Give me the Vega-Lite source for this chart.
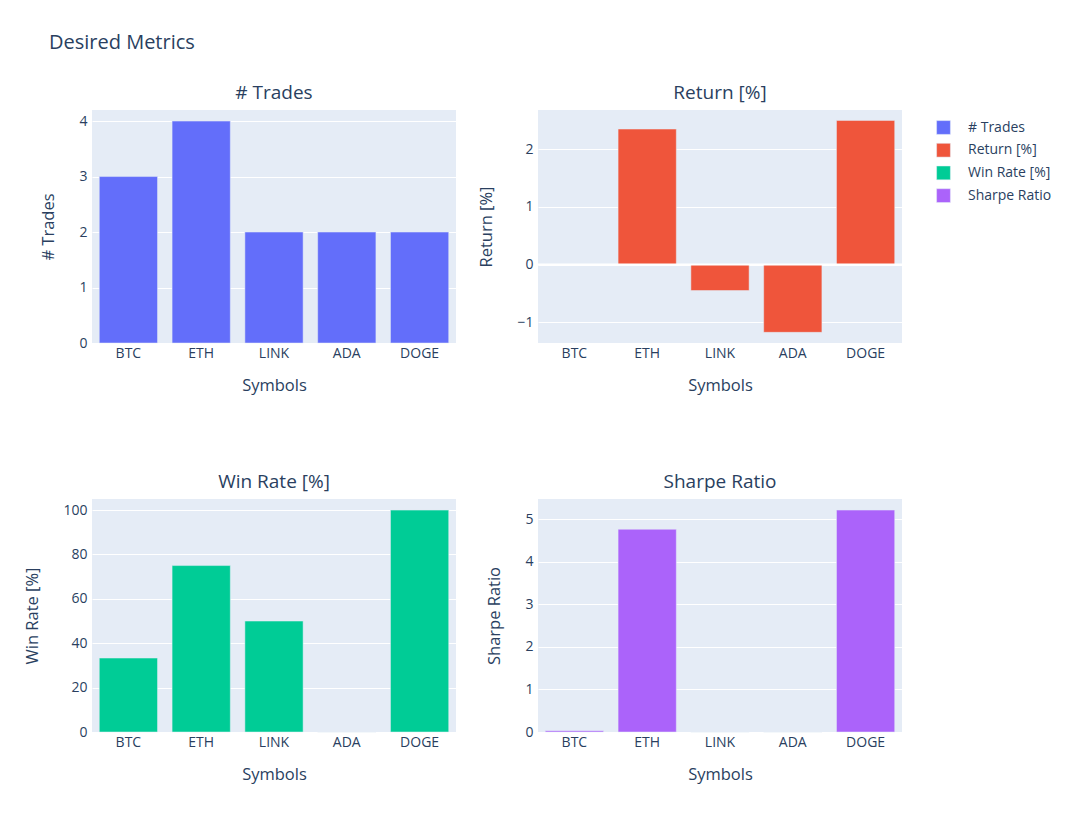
{
  "$schema": "https://vega.github.io/schema/vega-lite/v6.json",
  "background": "white",
  "padding": {"left": 24, "top": 33, "right": 5, "bottom": 5},
  "title": {"text": "Desired Metrics", "anchor": "start", "fontSize": 20, "font": "Open Sans", "fontWeight": "normal", "color": "#2a3f5f", "dx": 24, "offset": 31},
  "config": {
    "font": "Open Sans",
    "view": {"fill": "#E5ECF6", "stroke": null},
    "axis": {"labelFont": "Open Sans", "titleFont": "Open Sans", "labelColor": "#2a3f5f", "titleColor": "#2a3f5f", "labelFontSize": 14, "titleFontSize": 16.5, "titleFontWeight": "normal", "domain": false, "ticks": false, "gridColor": "white", "gridWidth": 1},
    "axisX": {"grid": false, "labelAngle": 0, "labelPadding": 3, "titlePadding": 17},
    "axisY": {"labelPadding": 5, "titlePadding": 22},
    "title": {"font": "Open Sans", "fontSize": 19, "fontWeight": "normal", "color": "#2a3f5f", "offset": 7},
    "legend": {"labelFont": "Open Sans", "labelFontSize": 14, "labelColor": "#2a3f5f"}
  },
  "data": {"values": [
    {"symbol": "BTC", "metric": "# Trades", "value": 3},
    {"symbol": "ETH", "metric": "# Trades", "value": 4},
    {"symbol": "LINK", "metric": "# Trades", "value": 2},
    {"symbol": "ADA", "metric": "# Trades", "value": 2},
    {"symbol": "DOGE", "metric": "# Trades", "value": 2},
    {"symbol": "BTC", "metric": "Return [%]", "value": 0.01},
    {"symbol": "ETH", "metric": "Return [%]", "value": 2.35},
    {"symbol": "LINK", "metric": "Return [%]", "value": -0.45},
    {"symbol": "ADA", "metric": "Return [%]", "value": -1.175},
    {"symbol": "DOGE", "metric": "Return [%]", "value": 2.5},
    {"symbol": "BTC", "metric": "Win Rate [%]", "value": 33.33},
    {"symbol": "ETH", "metric": "Win Rate [%]", "value": 75},
    {"symbol": "LINK", "metric": "Win Rate [%]", "value": 50},
    {"symbol": "ADA", "metric": "Win Rate [%]", "value": 0},
    {"symbol": "DOGE", "metric": "Win Rate [%]", "value": 100},
    {"symbol": "BTC", "metric": "Sharpe Ratio", "value": 0.03},
    {"symbol": "ETH", "metric": "Sharpe Ratio", "value": 4.76},
    {"symbol": "LINK", "metric": "Sharpe Ratio", "value": 0},
    {"symbol": "ADA", "metric": "Sharpe Ratio", "value": 0},
    {"symbol": "DOGE", "metric": "Sharpe Ratio", "value": 5.21}
  ]},
  "columns": 2,
  "bounds": "flush",
  "spacing": {"row": 156, "column": 82},
  "resolve": {"scale": {"color": "shared"}, "legend": {"color": "shared"}},
  "concat": [
    {
      "title": "# Trades",
      "width": 364, "height": 233,
      "transform": [{"filter": "datum.metric === '# Trades'"}],
      "mark": {"type": "bar", "stroke": "#E5ECF6", "strokeWidth": 0.5},
      "encoding": {
        "x": {"field": "symbol", "type": "nominal", "sort": ["BTC", "ETH", "LINK", "ADA", "DOGE"], "title": "Symbols", "scale": {"paddingInner": 0.2, "paddingOuter": 0.1}},
        "y": {"field": "value", "type": "quantitative", "title": "# Trades", "scale": {"domain": [0, 4.2], "nice": false}, "axis": {"values": [0, 1, 2, 3, 4], "format": "d"}},
        "color": {"field": "metric", "type": "nominal", "scale": {"domain": ["# Trades", "Return [%]", "Win Rate [%]", "Sharpe Ratio"], "range": ["#636efa", "#EF553B", "#00cc96", "#ab63fa"]}, "legend": {"title": null, "orient": "none", "legendX": 844, "legendY": 10, "symbolType": "square", "symbolSize": 190, "symbolStrokeWidth": 0.5, "symbolStrokeColor": "#E5ECF6", "labelOffset": 17, "rowPadding": 5.7}}
      }
    },
    {
      "title": "Return [%]",
      "width": 364, "height": 233,
      "layer": [
        {
          "transform": [{"filter": "datum.metric === 'Return [%]'"}],
          "mark": {"type": "bar", "stroke": "#E5ECF6", "strokeWidth": 0.5},
          "encoding": {
            "x": {"field": "symbol", "type": "nominal", "sort": ["BTC", "ETH", "LINK", "ADA", "DOGE"], "title": "Symbols", "scale": {"paddingInner": 0.2, "paddingOuter": 0.1}},
            "y": {"field": "value", "type": "quantitative", "title": "Return [%]", "scale": {"domain": [-1.36, 2.68], "nice": false}, "axis": {"values": [-1, 0, 1, 2], "format": "d"}},
            "color": {"field": "metric", "type": "nominal", "scale": {"domain": ["# Trades", "Return [%]", "Win Rate [%]", "Sharpe Ratio"], "range": ["#636efa", "#EF553B", "#00cc96", "#ab63fa"]}}
          }
        },
        {
          "data": {"values": [{"zero": 0}]},
          "mark": {"type": "rule", "color": "white", "strokeWidth": 2},
          "encoding": {"y": {"field": "zero", "type": "quantitative"}}
        }
      ]
    },
    {
      "title": "Win Rate [%]",
      "width": 364, "height": 233,
      "transform": [{"filter": "datum.metric === 'Win Rate [%]'"}],
      "mark": {"type": "bar", "stroke": "#E5ECF6", "strokeWidth": 0.5},
      "encoding": {
        "x": {"field": "symbol", "type": "nominal", "sort": ["BTC", "ETH", "LINK", "ADA", "DOGE"], "title": "Symbols", "scale": {"paddingInner": 0.2, "paddingOuter": 0.1}},
        "y": {"field": "value", "type": "quantitative", "title": "Win Rate [%]", "scale": {"domain": [0, 105], "nice": false}, "axis": {"values": [0, 20, 40, 60, 80, 100], "format": "d"}},
        "color": {"field": "metric", "type": "nominal", "scale": {"domain": ["# Trades", "Return [%]", "Win Rate [%]", "Sharpe Ratio"], "range": ["#636efa", "#EF553B", "#00cc96", "#ab63fa"]}}
      }
    },
    {
      "title": "Sharpe Ratio",
      "width": 364, "height": 233,
      "transform": [{"filter": "datum.metric === 'Sharpe Ratio'"}],
      "mark": {"type": "bar", "stroke": "#E5ECF6", "strokeWidth": 0.5},
      "encoding": {
        "x": {"field": "symbol", "type": "nominal", "sort": ["BTC", "ETH", "LINK", "ADA", "DOGE"], "title": "Symbols", "scale": {"paddingInner": 0.2, "paddingOuter": 0.1}},
        "y": {"field": "value", "type": "quantitative", "title": "Sharpe Ratio", "scale": {"domain": [0, 5.47], "nice": false}, "axis": {"values": [0, 1, 2, 3, 4, 5], "format": "d"}},
        "color": {"field": "metric", "type": "nominal", "scale": {"domain": ["# Trades", "Return [%]", "Win Rate [%]", "Sharpe Ratio"], "range": ["#636efa", "#EF553B", "#00cc96", "#ab63fa"]}}
      }
    }
  ]
}
